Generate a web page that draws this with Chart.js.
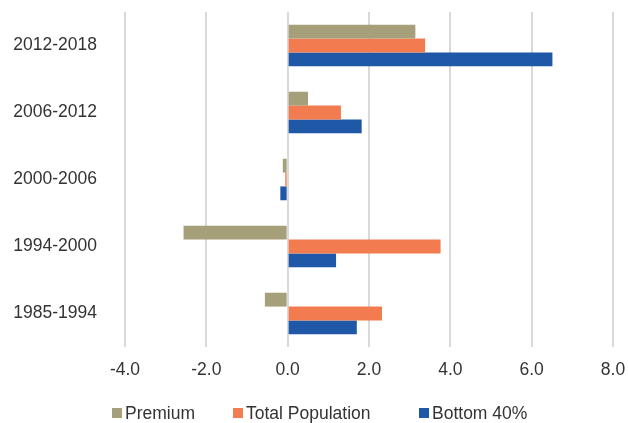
<!DOCTYPE html>
<html>
<head>
<meta charset="utf-8">
<script src="https://cdn.jsdelivr.net/npm/chart.js@4"></script>
<style>
  body { margin: 0; background: #fff; }
  #wrap { position: relative; width: 628px; height: 423px; }
  .legend { position: absolute; top: 403px; font: 17.5px/20px 'Liberation Sans', Arial, sans-serif; color: #333; white-space: nowrap; }
  .legend i { display: inline-block; width: 10px; height: 10px; margin-right: 3px; vertical-align: 1px; }
</style>
</head>
<body>
<div id="wrap">
  <canvas id="chart" width="628" height="423"></canvas>
  <div class="legend" style="left:112px"><i style="background:#a5a07a"></i>Premium</div>
  <div class="legend" style="left:233px"><i style="background:#f27c50"></i>Total Population</div>
  <div class="legend" style="left:419px"><i style="background:#1e58a6"></i>Bottom 40%</div>
</div>
<script>
const periods = ['2012-2018', '2006-2012', '2000-2006', '1994-2000', '1985-1994'];
const premium = [3.14, 0.50, -0.12, -2.56, -0.56];
const totalPopulation = [3.38, 1.31, -0.06, 3.76, 2.32];
const bottom40 = [6.51, 1.82, -0.18, 1.19, 1.70];
const xTicks = [-4, -2, 0, 2, 4, 6, 8];

new Chart(document.getElementById('chart'), {
  type: 'bar',
  data: {
    labels: periods,
    datasets: [
      { label: 'Premium', data: premium, backgroundColor: '#a5a07a' },
      { label: 'Total Population', data: totalPopulation, backgroundColor: '#f27c50' },
      { label: 'Bottom 40%', data: bottom40, backgroundColor: '#1e58a6' }
    ]
  },
  options: {
    indexAxis: 'y',
    responsive: false,
    animation: false,
    categoryPercentage: 0.62,
    barPercentage: 1,
    layout: { padding: { top: 12, right: 15, bottom: 29, left: 0 } },
    plugins: { legend: { display: false }, tooltip: { enabled: false } },
    scales: {
      x: {
        min: xTicks[0],
        max: xTicks[xTicks.length - 1],
        afterBuildTicks: (scale) => { scale.ticks = xTicks.map(v => ({ value: v })); },
        // keep the tick labels from pushing the plot area in
        afterFit: (scale) => { scale.paddingLeft = 0; scale.paddingRight = 0; },
        grid: { color: '#d9d9d9', lineWidth: 2, drawTicks: false },
        border: { display: false },
        ticks: {
          padding: 13,
          color: '#333',
          font: { family: 'Liberation Sans', size: 17.5 },
          callback: (v) => Number(v).toFixed(1)
        }
      },
      y: {
        afterFit: (scale) => { scale.width = 125; scale.paddingTop = 0; scale.paddingBottom = 0; },
        grid: { display: false, drawTicks: false },
        border: { display: false },
        ticks: {
          padding: 28,
          color: '#333',
          font: { family: 'Liberation Sans', size: 17.5 }
        }
      }
    }
  }
});
</script>
</body>
</html>
